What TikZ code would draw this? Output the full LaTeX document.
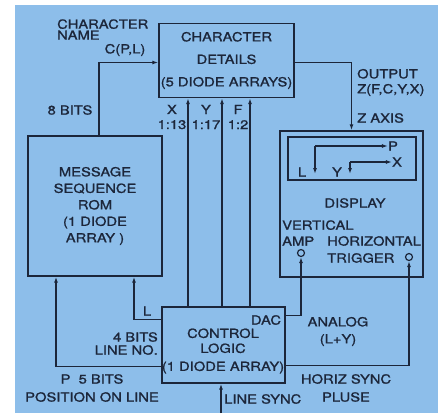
\documentclass[tikz,border=0pt]{standalone}
\usepackage{fontspec}
\setmainfont{TeX Gyre Heros}[FakeStretch=1.18, FakeBold=1.2]
\usetikzlibrary{arrows.meta,calc}
\definecolor{panelblue}{RGB}{141,190,234}
\definecolor{ink}{RGB}{28,38,58}

\begin{document}
\begin{tikzpicture}[
  x=1pt, y=-1pt,
  font=\fontsize{12.5}{14}\selectfont,
  color=ink,
  >={Latex[length=6pt,width=4pt]},
  lskip/.style={font=\fontsize{12.5}{#1}\selectfont},
  block/.style={draw, line width=1.4pt, align=center, inner sep=0pt},
  link/.style={->, line width=1.4pt},
  lbl/.style={align=center, inner sep=0pt},
  port/.style={draw, circle, line width=1.2pt, minimum size=7pt, inner sep=0pt},
]
\useasboundingbox (0,0) rectangle (441,413);
\fill[white] (0,0) rectangle (441,413);
\fill[panelblue] (15,5) rectangle (438,413);

% Blocks
\node[block, lskip=22.5, minimum width=135pt, minimum height=74pt] (details) at (226.5,60.5) {CHARACTER\\DETAILS\\(5 DIODE ARRAYS)};
\node[block, lskip=16.5, minimum width=134pt, minimum height=140pt] (rom) at (95,206) {MESSAGE\\SEQUENCE\\ROM\\(1 DIODE\\ARRAY )};
\node[block, minimum width=143pt, minimum height=146pt] (display) at (351.5,204) {};
\node[block, minimum width=128pt, minimum height=43pt] (screen) at (352,158.5) {};
\node[block, minimum width=123pt, minimum height=76pt] (control) at (223.5,345) {};
\node[lbl, lskip=15] (ctrltext) at (223,351) {CONTROL\\LOGIC\\[3pt](1 DIODE ARRAY)};
\node[lbl] (dac) at (266,320) {DAC};

% Display contents
\node[lbl] (disptext) at (355,203) {DISPLAY};
\node[lbl, lskip=16, align=left, anchor=west] (vamptext) at (282,233) {VERTICAL\\AMP};
\node[lbl, lskip=17, align=left, anchor=west] (htrigtext) at (327,249.5) {HORIZONTAL\\TRIGGER};
\node[port] (vamp) at (301,253) {};
\node[port] (htrig) at (409,257) {};

% Screen axes
\coordinate (plcorner) at (315,146);
\coordinate (lend) at (315,174);
\node[lbl] (ptext) at (393,146) {P};
\node[lbl] (ltext) at (302,172) {L};
\draw[link] (plcorner) -- (ptext.west);
\draw[link] (plcorner) -- (lend);
\coordinate (xycorner) at (350,162);
\coordinate (yend) at (350,174);
\node[lbl] (xtext) at (397,162) {X};
\node[lbl] (ytext) at (337,172) {Y};
\draw[link] (xycorner) -- (xtext.west);
\draw[link] (xycorner) -- (yend);

% ROM -> character details
\draw[link] ([xshift=4pt]rom.north) |- ([yshift=-2pt]details.west);
\node[lbl, lskip=11, align=left, anchor=west] (charname) at (57,29.5) {CHARACTER\\NAME};
\node[lbl] (cpl) at (125,50) {C(P,L)};
\node[lbl] (bits8) at (70,110) {8 BITS};

% Character details -> display
\draw[link] ([yshift=-2pt]details.east) -| (display.north);
\node[lbl, lskip=15, align=left, anchor=west] (output) at (357,82.5) {OUTPUT\\Z(F,C,Y,X)};
\node[lbl, anchor=west] (zaxis) at (357,118) {Z AXIS};

% Control logic -> character details
\foreach \xx/\ax/\ratio in {188/X/1:13, 222/Y/1:17, 250/F/1:2} {
  \coordinate (bx\ax) at (\xx,0);
  \draw[link] (control.north -| bx\ax) -- (details.south -| bx\ax);
  \node[lbl, lskip=15, anchor=east] (tag\ax) at (\xx-1.5,117) {\ax\\\ratio};
}

% Control logic -> ROM
\draw[link] ([yshift=-13pt]control.north west) -| ([xshift=39pt]rom.south);
\node[lbl] (ltag) at (147,311) {L};
\node[lbl, lskip=13, align=right, anchor=east] (lineno) at (158,343.5) {4 BITS\\LINE NO.};
\draw[link] ([yshift=17pt]control.south west) -| ([xshift=-39pt]rom.south);
\node[lbl, lskip=18] (pos) at (92,388) {P\ \ 5 BITS\\POSITION ON LINE};

% Control logic -> display
\draw[link] ([yshift=-9pt]control.north east) -| (vamp.south);
\node[lbl, lskip=17] (analog) at (338,331.5) {ANALOG\\(L+Y)};
\draw[link] ([yshift=18pt]control.south east) -| (htrig.south);
\node[lbl, lskip=18] (hsync) at (346,388) {HORIZ SYNC\\PLUSE};

% Line sync
\coordinate (sync) at (221,413);
\draw[link] (sync) -- (sync |- control.south);
\node[lbl, anchor=west] (linesync) at (224,399) {LINE SYNC};

\end{tikzpicture}
\end{document}
